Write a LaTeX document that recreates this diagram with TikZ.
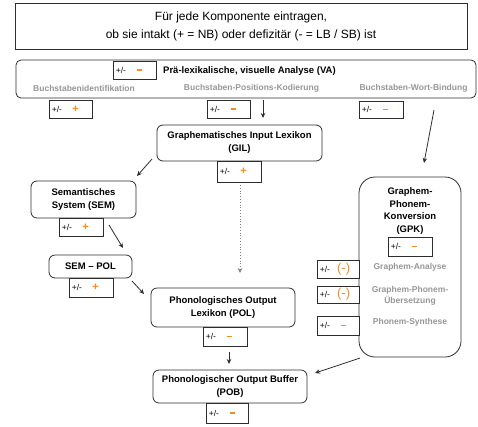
\documentclass[tikz,border=0pt]{standalone}
\usepackage{fontspec}
\setmainfont{Liberation Sans}
\usetikzlibrary{arrows.meta}
\definecolor{markc}{RGB}{245,140,40}
\definecolor{lblc}{RGB}{150,150,150}
\definecolor{edgec}{RGB}{45,45,45}

% rating box: name, centre, width, height, mark
\newcommand\ratebox[5]{%
  \node[ratefrm, minimum width=#3, minimum height=#4] (#1) at (#2) {};
  \node[ratetxt, anchor=west] at ([xshift=3pt]#1.west) {+/-};
  \node[ratemark] at ([xshift=27pt]#1.west) {#5};
}
\newcommand\plusmark{{\fontsize{11}{11}\selectfont\bfseries +}}
\newcommand\minusmark{\rule{5pt}{1.6pt}}
\newcommand\parmark{{\fontsize{13}{13}\selectfont (-)}}

\begin{document}
\begin{tikzpicture}[x=1pt,y=-1pt,
  frame/.style={draw=edgec, line width=0.8pt, inner sep=0pt},
  module/.style={frame, rounded corners=6pt},
  modtxt/.style={font=\fontsize{9.5}{13}\selectfont\bfseries, align=center, inner sep=0pt},
  sublbl/.style={font=\fontsize{8.5}{11}\selectfont\bfseries, text=lblc, align=center, inner sep=0pt},
  ratefrm/.style={frame, fill=white},
  ratetxt/.style={font=\fontsize{8.5}{9}\selectfont, inner sep=0pt},
  ratemark/.style={text=markc, inner sep=0pt},
  arr/.style={draw=edgec, line width=0.8pt, -{Stealth[length=5pt,width=4.5pt]}},
]
\useasboundingbox (0,0) rectangle (478,426);

% instruction header
\node[frame, minimum width=452, minimum height=46] (head) at (241,26) {};
\node[font=\fontsize{12}{18}\selectfont, align=center, inner sep=0pt] at (head.center)
  {Für jede Komponente eintragen,\\ob sie intakt (+ = NB) oder defizitär (- = LB / SB) ist};

% pre-lexical visual analysis
\node[frame, rounded corners=5pt, minimum width=460, minimum height=38] (va) at (246,79) {};
\ratebox{rva}{134.5,70}{43}{18}{\minusmark}
\node[modtxt, anchor=west] at (163,71.5) {Prä-lexikalische, visuelle Analyse (VA)};
\node[sublbl] at (84,88) {Buchstabenidentifikation};
\node[sublbl] at (251.5,88) {Buchstaben-Positions-Kodierung};
\node[sublbl] at (413.5,88) {Buchstaben-Wort-Bindung};
\ratebox{rbi}{70.5,109}{43}{18}{\plusmark}
\ratebox{rbp}{228.5,109}{43}{18}{\minusmark}
\ratebox{rbw}{381,109.5}{44}{17}{\minusmark}

% graphematic input lexicon
\node[module, minimum width=165, minimum height=36] (gil) at (239.5,143) {};
\node[modtxt] at (gil.center) {Graphematisches Input Lexikon\\(GIL)};
\ratebox{rgil}{239,171.5}{44}{21}{\plusmark}

% semantic system
\node[module, minimum width=105, minimum height=37] (sem) at (83.5,199.5) {};
\node[modtxt] at (sem.center) {Semantisches\\System (SEM)};
\ratebox{rsem}{81,227}{44}{18}{\plusmark}

% SEM - POL link
\node[module, minimum width=83, minimum height=23] (sempol) at (90.5,266.5) {};
\node[modtxt] at (sempol.center) {SEM -- POL};
\ratebox{rsp}{91,287.5}{44}{19}{\plusmark}

% phonological output lexicon
\node[module, minimum width=144, minimum height=39] (pol) at (223,307.5) {};
\node[modtxt] at (pol.center) {Phonologisches Output\\Lexikon (POL)};
\ratebox{rpol}{225,336.5}{44}{19}{\minusmark}

% grapheme-phoneme conversion
\node[frame, rounded corners=16pt, minimum width=102, minimum height=180] (gpk) at (410,267) {};
\node[modtxt, font=\fontsize{9.5}{12.7}\selectfont\bfseries] at (410,211) {Graphem-\\Phonem-\\Konversion\\(GPK)};
\ratebox{rgpk}{410,246.5}{44}{19}{\minusmark}
\node[sublbl] at (410,267) {Graphem-Analyse};
\node[sublbl] at (410,295.5) {Graphem-Phonem-\\Übersetzung};
\node[sublbl] at (410,322) {Phonem-Synthese};
\ratebox{rga}{338,269}{42}{18}{\parmark}
\ratebox{rgu}{338,294.5}{42}{17}{\parmark}
\ratebox{rps}{338,325.5}{42}{19}{\minusmark}

% phonological output buffer
\node[module, minimum width=154, minimum height=33] (pob) at (230,386.5) {};
\node[modtxt] at (pob.center) {Phonologischer Output Buffer\\(POB)};
\ratebox{rpob}{227,413}{42}{20}{\minusmark}

% connector end points
\coordinate (vaout) at (263,100);
\coordinate (gilin) at (263,118);
\coordinate (bwout) at (434,110);
\coordinate (gpkin) at (424,163);
\coordinate (gilout) at (152,159);
\coordinate (semin) at (137,176);
\coordinate (semout) at (109,225);
\coordinate (spin) at (123,248);
\coordinate (spout) at (132,281);
\coordinate (polin) at (144,294);
\coordinate (giltop) at (240,185);
\coordinate (polmid) at (240,273);
\coordinate (polout) at (229,352);
\coordinate (pobin) at (229,364);
\coordinate (gpkout) at (360,358);
\coordinate (pobside) at (315,373);

\draw[arr] (vaout) -- (gilin);
\draw[arr] (bwout) -- (gpkin);
\draw[arr] (gilout) -- (semin);
\draw[arr] (semout) -- (spin);
\draw[arr] (spout) -- (polin);
\draw[arr, dotted, line width=0.6pt, draw=gray] (giltop) -- (polmid);
\draw[arr] (polout) -- (pobin);
\draw[arr] (gpkout) -- (pobside);
\end{tikzpicture}
\end{document}
